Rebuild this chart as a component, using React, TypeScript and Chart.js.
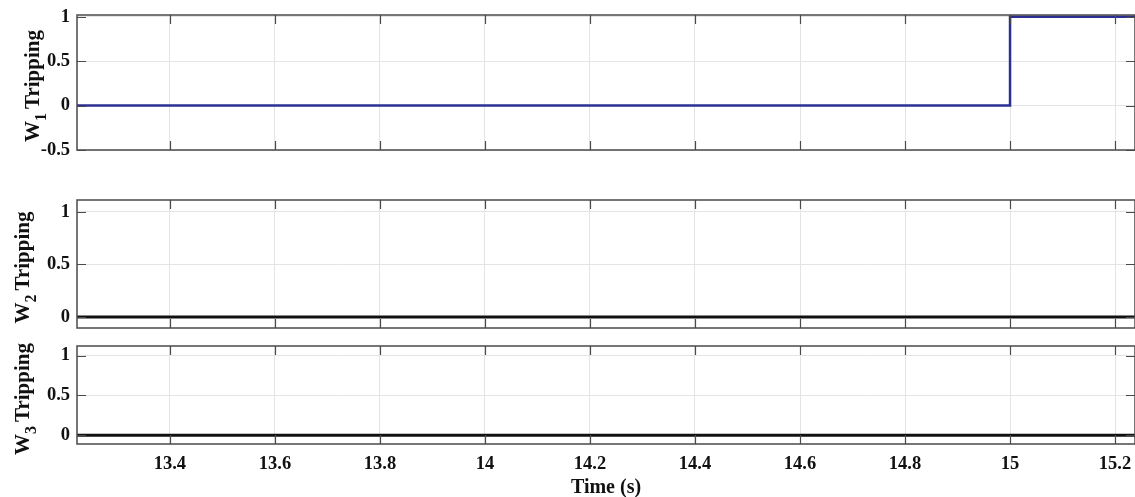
import React, { useEffect, useRef } from 'react';
import { Chart, registerables } from 'chart.js';
Chart.register(...registerables);

const timeS = [13.2, 15.0, 15.0, 15.3];
const w1Trip = [0, 0, 1, 1];
const w2Trip = [0, 0, 0, 0];
const w3Trip = [0, 0, 0, 0];
const xTicks = [13.4, 13.6, 13.8, 14, 14.2, 14.4, 14.6, 14.8, 15, 15.2];
const y1Ticks = [-0.5, 0, 0.5, 1];
const y23Ticks = [0, 0.5, 1];
const xLabel = 'Time (s)';
const yLabelMain = 'W';
const yLabelTail = 'Tripping';

const FONT = "'Liberation Serif', 'Times New Roman', serif";
const X_MIN = 13.223;
const X_MAX = 15.238;

const framePlugin = {
  id: 'frame',
  afterDraw(chart: any) {
    const { ctx, chartArea } = chart;
    const { left, right, top, bottom } = chartArea;
    const xs = chart.scales.x;
    const ys = chart.scales.y;
    ctx.save();
    ctx.strokeStyle = '#4a4a4a';
    ctx.lineWidth = 1.2;
    const tl = 9;
    ctx.beginPath();
    xs.ticks.forEach((t: any) => {
      const p = Math.round(xs.getPixelForValue(t.value)) + 0.5;
      ctx.moveTo(p, top);
      ctx.lineTo(p, top + tl);
      ctx.moveTo(p, bottom);
      ctx.lineTo(p, bottom - tl);
    });
    ys.ticks.forEach((t: any) => {
      const p = Math.round(ys.getPixelForValue(t.value)) + 0.5;
      ctx.moveTo(left, p);
      ctx.lineTo(left + tl, p);
      ctx.moveTo(right, p);
      ctx.lineTo(right - tl, p);
    });
    ctx.stroke();
    ctx.lineWidth = 1.5;
    ctx.strokeRect(left, top, right - left, bottom - top);

    // y-axis title with subscript
    const o = chart.options.plugins.ytitle;
    const big = `bold ${o.size}px ${FONT}`;
    const small = `bold ${o.subSize}px ${FONT}`;
    ctx.font = big;
    const wW = ctx.measureText(yLabelMain).width;
    const tW = ctx.measureText(yLabelTail).width;
    ctx.font = small;
    const sW = ctx.measureText(o.sub + ' ').width;
    const total = wW + sW + tW;
    const cy = (top + bottom) / 2 + o.dy;
    ctx.translate(o.baseX, cy);
    ctx.rotate(-Math.PI / 2);
    ctx.fillStyle = '#111';
    ctx.textBaseline = 'alphabetic';
    ctx.textAlign = 'left';
    let u = -total / 2;
    ctx.font = big;
    ctx.fillText(yLabelMain, u, 0);
    u += wW;
    ctx.font = small;
    ctx.fillText(o.sub, u, o.subDrop);
    u += sW;
    ctx.font = big;
    ctx.fillText(yLabelTail, u, 0);
    ctx.restore();
  },
};

type PanelProps = {
  top: number;
  height: number;
  padTop: number;
  xAxisHeight: number;
  values: number[];
  color: string;
  lineWidth: number;
  yMin: number;
  yMax: number;
  yTicks: number[];
  sub: string;
  showX: boolean;
  baseX: number;
  dy: number;
};

function Panel(p: PanelProps) {
  const ref = useRef<HTMLCanvasElement | null>(null);
  useEffect(() => {
    if (!ref.current) return;
    const tickFont = { family: FONT, weight: 'bold' as const, size: 18.5 };
    const yTickFont = { family: FONT, weight: 'bold' as const, size: 18.5, lineHeight: 0.6 };
    const chart = new Chart(ref.current, {
      type: 'line',
      data: {
        datasets: [
          {
            data: timeS.map((t, i) => ({ x: t, y: p.values[i] })),
            borderColor: p.color,
            borderWidth: p.lineWidth,
            pointRadius: 0,
            tension: 0,
            fill: false,
          },
        ],
      },
      options: {
        animation: false,
        responsive: false,
        maintainAspectRatio: false,
        layout: { padding: { top: p.padTop, left: 0, right: 0, bottom: 0 } },
        plugins: {
          legend: { display: false },
          tooltip: { enabled: false },
          ytitle: { sub: p.sub, size: 21, subSize: 16, subDrop: 7, baseX: p.baseX, dy: p.dy },
        } as any,
        scales: {
          x: {
            type: 'linear',
            min: X_MIN,
            max: X_MAX,
            afterBuildTicks: (s: any) => {
              s.ticks = xTicks.map((v) => ({ value: v }));
            },
            afterFit: (s: any) => {
              s.height = p.xAxisHeight;
              s.paddingLeft = 0;
              s.paddingRight = 0;
            },
            grid: { color: '#e4e4e4', lineWidth: 1, drawTicks: false },
            border: { display: false },
            ticks: {
              display: p.showX,
              color: '#111',
              font: tickFont,
              padding: 9,
              maxRotation: 0,
              autoSkip: false,
              callback: (v: any) => String(Math.round(Number(v) * 10) / 10),
            },
            title: {
              display: p.showX,
              text: xLabel,
              color: '#111',
              font: { family: FONT, weight: 'bold', size: 20 },
              padding: { top: 0, bottom: -3 },
            },
          },
          y: {
            type: 'linear',
            min: p.yMin,
            max: p.yMax,
            afterBuildTicks: (s: any) => {
              s.ticks = p.yTicks.map((v) => ({ value: v }));
            },
            afterFit: (s: any) => {
              s.width = 77;
              s.paddingTop = 0;
              s.paddingBottom = 0;
            },
            grid: { color: '#e4e4e4', lineWidth: 1, drawTicks: false },
            border: { display: false },
            ticks: {
              color: '#111',
              font: yTickFont,
              padding: 7,
              callback: (v: any) => String(v),
            },
            title: { display: false },
          },
        },
      },
      plugins: [framePlugin],
    });
    return () => chart.destroy();
  }, []);
  return (
    <canvas
      ref={ref}
      width={1135}
      height={p.height}
      style={{ position: 'absolute', left: 0, top: p.top, width: 1135, height: p.height }}
    />
  );
}

export default function App() {
  return (
    <div
      style={{
        position: 'absolute',
        left: 0,
        top: 0,
        width: 1135,
        height: 497,
        background: '#fff',
        overflow: 'hidden',
      }}
    >
      <Panel top={0} height={160} padTop={15} xAxisHeight={10} values={w1Trip} color="#2b2f91" lineWidth={2.5}
        yMin={-0.5} yMax={1.02} yTicks={y1Ticks} sub="1" showX={false} baseX={39} dy={3.5} />
      <Panel top={190} height={150} padTop={10} xAxisHeight={12} values={w2Trip} color="#111111" lineWidth={3}
        yMin={-0.105} yMax={1.114} yTicks={y23Ticks} sub="2" showX={false} baseX={29} dy={3.5} />
      <Panel top={336} height={161} padTop={10} xAxisHeight={53} values={w3Trip} color="#111111" lineWidth={3}
        yMin={-0.11} yMax={1.12} yTicks={y23Ticks} sub="3" showX={true} baseX={29} dy={4} />
    </div>
  );
}
